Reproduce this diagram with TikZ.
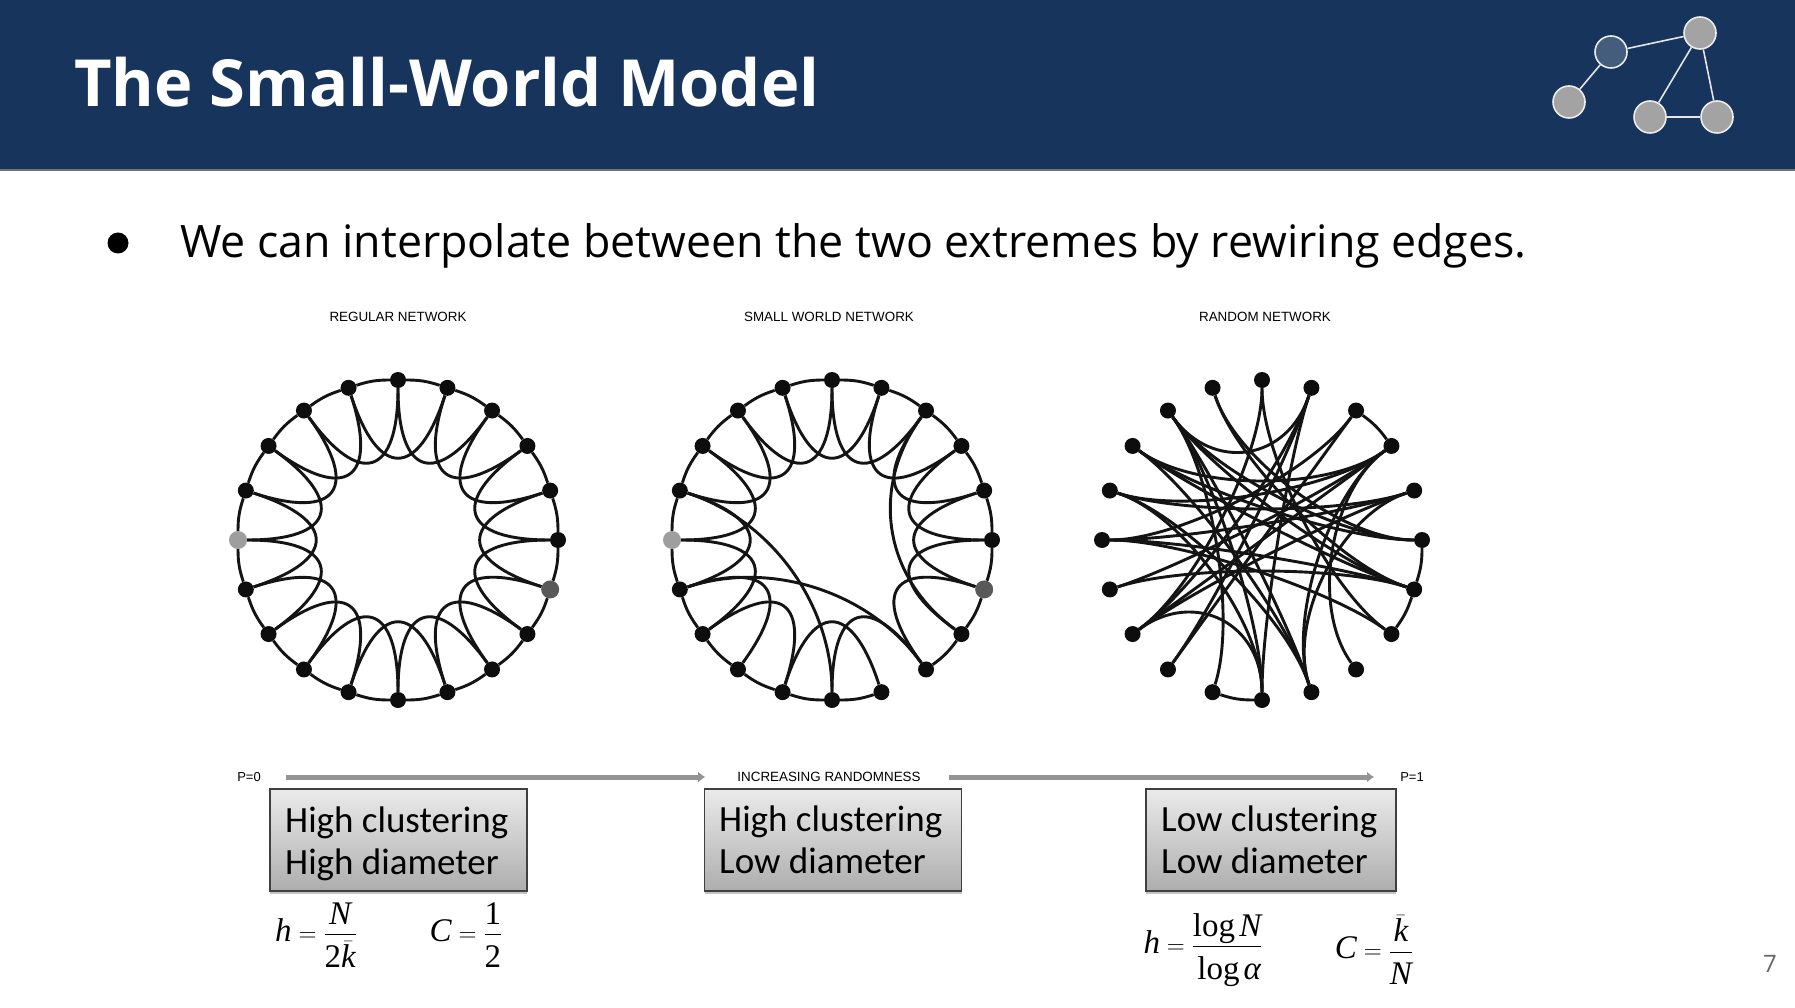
\documentclass[tikz,border=0pt]{standalone}
\usepackage{amsmath}
\usepackage{fontspec}
\usetikzlibrary{calc, shadows, arrows.meta}
\setmainfont{Open Sans}
\setmathrm{Liberation Serif}
\newfontfamily\boxfont{Carlito}
\newfontfamily\capfont{Liberation Sans}
\newfontfamily\eqfont{Liberation Serif}
\definecolor{headblue}{HTML}{16345C}
\newcommand{\fsize}[1]{\fontsize{#1}{#1}\selectfont}
\newcommand{\mi}[1]{\text{\eqfont\itshape #1}}
\newcommand{\mn}[1]{\text{\eqfont #1}}
\newcommand{\wfrac}[2]{\dfrac{#1\rule[-6pt]{0pt}{6pt}}{\rule{0pt}{29pt}#2}}
\newcommand{\sagk}{.6}
\newcommand{\sagedge}[3]{\draw[ringline] (#1) .. controls ($(#1)!\sagk!(#3)$) and ($(#2)!\sagk!(#3)$) .. (#2);}
\newcommand{\rimedge}[2]{\draw[ringline] (#1) to[bend left=9] (#2);}

\begin{document}
\begin{tikzpicture}[
    x=1pt, y=-1pt,
    ringline/.style={line width=2.9pt, black!92},
    dot/.style={circle, fill=black!95, inner sep=0pt, minimum size=16pt},
    dotlight/.style={circle, fill=black!38, inner sep=0pt, minimum size=18pt},
    dotdark/.style={circle, fill=black!65, inner sep=0pt, minimum size=18pt},
    caption/.style={font=\capfont\fsize{13.4}, inner sep=0pt},
    infobox/.style={draw=black!75, line width=1.2pt, top color=black!8, bottom color=black!32, minimum height=102pt, inner sep=0pt,
        drop shadow={shadow xshift=0pt, shadow yshift=-3pt, fill=black!45}},
    boxtext/.style={font=\boxfont\fsize{37}, align=left, inner sep=0pt},
    eqn/.style={font=\fsize{33}, inner sep=0pt},
    logonode/.style={circle, draw=black!8, line width=1.6pt, fill=black!36, inner sep=0pt, minimum size=32pt},
    logoline/.style={draw=black!10, line width=1.6pt},
    scale arrow/.style={draw=black!42, line width=5pt, -{Latex[length=7pt,width=11pt]}}
]
\path[fill=white] (0,0) rectangle (1795,1008);
\useasboundingbox (0,0) rectangle (1795,1008);

% header
\fill[headblue] (0,0) rectangle (1795,169);
\fill[black!55] (0,169) rectangle (1795,171);
\node[font=\bfseries\fsize{65}, text=white, anchor=base west, inner sep=0pt] (title) at (74,107) {The Small-World Model};
\node[logonode, fill=headblue!80!white] (la) at (1611,52) {};
\node[logonode] (lb) at (1700,33) {};
\node[logonode] (lc) at (1569,102) {};
\node[logonode] (ld) at (1650,117) {};
\node[logonode] (le) at (1717,117) {};
\draw[logoline] (la) -- (lb);
\draw[logoline] (la) -- (lc);
\draw[logoline] (lb) -- (ld);
\draw[logoline] (lb) -- (le);
\draw[logoline] (ld) -- (le);

% bullet line
\node[circle, fill=black, inner sep=0pt, minimum size=21pt] (bullet) at (118,243) {};
\node[font=\fsize{44.7}, anchor=base west, inner sep=0pt] (intro) at (180,258) {We can interpolate between the two extremes by rewiring edges.};

% ring names
\node[caption] (regname) at (398,317) {REGULAR NETWORK};
\node[caption] (smallname) at (829,317) {SMALL WORLD NETWORK};
\node[caption] (randname) at (1265,317) {RANDOM NETWORK};

% regular ring
\coordinate (ca) at (398,540);
\foreach \i in {0,2,3,...,9,11,12,...,19}
    \node[dot] (a\i) at ($(ca)+(18*\i:160)$) {};
\node[dotdark] (a1) at ($(ca)+(18:160)$) {};
\node[dotlight] (a10) at ($(ca)+(180:160)$) {};
\foreach \i [evaluate=\i as \j using {int(mod(\i+1,20))}, evaluate=\i as \k using {int(mod(\i+2,20))}] in {0,...,19} {
    \rimedge{a\i}{a\j}
    \sagedge{a\i}{a\k}{ca}
}

% small world ring
\coordinate (cb) at (832,540);
\foreach \i in {0,2,3,...,9,11,12,...,19}
    \node[dot] (b\i) at ($(cb)+(18*\i:160)$) {};
\node[dotdark] (b1) at ($(cb)+(18:160)$) {};
\node[dotlight] (b10) at ($(cb)+(180:160)$) {};
\foreach \i/\j in {0/1,1/2,2/3,4/5,5/6,6/7,7/8,8/9,9/10,10/11,11/12,12/13,13/14,14/15,15/16,16/17,17/18,18/19,19/0} {
    \rimedge{b\i}{b\j}
}
\foreach \i/\j in {0/2,1/3,3/5,4/6,6/8,7/9,8/10,9/11,10/12,11/13,12/14,13/15,14/16,15/17,16/18,17/19,18/0,19/1,5/11,9/3,17/2} {
    \sagedge{b\i}{b\j}{cb}
}

% random ring
\renewcommand{\sagk}{.48}
\coordinate (cc) at (1262,540);
\foreach \i in {0,...,19}
    \node[dot] (c\i) at ($(cc)+(18*\i:160)$) {};
\foreach \i/\j in {0/1,1/2,5/6,17/18} {
    \rimedge{c\i}{c\j}
}
\foreach \i/\j in {15/8,15/2,14/0,14/1,13/16,13/5,13/0,13/1,12/18,12/0,12/1,12/4,11/19,11/18,11/4,10/17,10/19,10/1,10/2,9/1,9/18,8/16,8/19,8/18,8/5,7/16,7/17,6/13,5/16,5/11,4/13,4/19,4/18,3/18} {
    \sagedge{c\i}{c\j}{cc}
}

% randomness scale
\node[caption, font=\capfont\fsize{13}] (pzero) at (249,777) {P=0};
\node[caption] (mid) at (829,777) {INCREASING RANDOMNESS};
\node[caption, font=\capfont\fsize{13}] (pone) at (1412,777) {P=1};
\coordinate (arrowa) at ($(pzero.east)+(25,0)$);
\coordinate (arrowb) at ($(mid.east)+(28,0)$);
\coordinate (tipa) at ($(mid.west)+(-32,0)$);
\coordinate (tipb) at ($(pone.west)+(-26,0)$);
\draw[scale arrow] (arrowa) -- (tipa);
\draw[scale arrow] (arrowb) -- (tipb);

% boxes
\node[infobox, minimum width=257pt] (boxa) at (398.5,840) {};
\node[boxtext, anchor=west] (texta) at (285,843.5) {High clustering\\[5pt]High diameter};
\node[infobox, minimum width=257pt] (boxb) at (833,840) {};
\node[boxtext, anchor=west] (textb) at (719,840) {High clustering\\[5pt]Low diameter};
\node[infobox, minimum width=250pt] (boxc) at (1271,840) {};
\node[boxtext, anchor=west] (textc) at (1161,840) {Low clustering\\[5pt]Low diameter};

% formulas
\node[eqn] (eqha) at (316,935) {$\mi{h}=\wfrac{\mi{N}}{\mn{2}\bar{\mi{k}}}$};
\node[eqn] (eqca) at (466,935) {$\mi{C}=\wfrac{\mn{1}}{\mn{2}}$};
\node[eqn] (eqhc) at (1203,950) {$\mi{h}=\wfrac{\log\mi{N}}{\log\mi{α}}$};
\node[eqn] (eqcc) at (1374,950) {$\mi{C}=\wfrac{\bar{\mi{k}}}{\mi{N}}$};

\node[font=\fsize{24}, text=black!60, inner sep=0pt] (pagenum) at (1770,964) {7};
\end{tikzpicture}
\end{document}
